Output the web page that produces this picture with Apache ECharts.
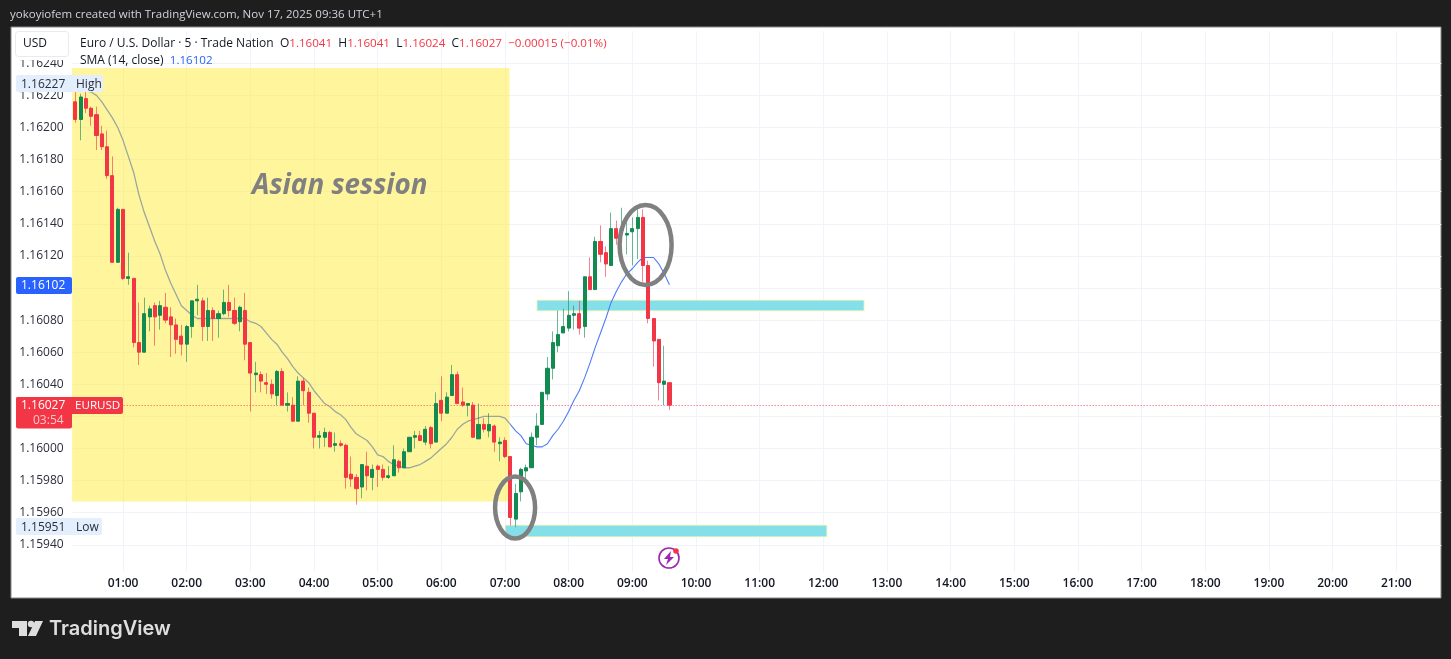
<!DOCTYPE html>
<html>
<head>
<meta charset="utf-8">
<style>html,body{margin:0;padding:0;background:#1e1e1e}#c{width:1451px;height:659px}</style>
<script src="https://cdn.jsdelivr.net/npm/echarts@6/dist/echarts.min.js"></script>
</head>
<body>
<div id="c"></div>
<script>
const opens = [
1.16216,1.16205,1.16218,1.16212,1.16208,1.16196,1.16188,1.16170,1.16116,1.16149,
1.16106,1.16106,1.16066,1.16060,1.16082,1.16089,1.16083,1.16088,1.16082,1.16077,
1.16070,1.16065,1.16076,1.16092,1.16092,1.16076,1.16086,1.16081,1.16084,1.16091,
1.16086,1.16079,1.16086,1.16066,1.16046,1.16046,1.16041,1.16040,1.16033,1.16048,
1.16027,1.16027,1.16017,1.16042,1.16035,1.16022,1.16007,1.16007,1.16010,1.16002,
1.16003,1.16002,1.15984,1.15982,1.15976,1.15989,1.15982,1.15989,1.15987,1.15982,
1.15983,1.15992,1.15988,1.15998,1.16007,1.16008,1.16004,1.16013,1.16004,1.16030,
1.16022,1.16033,1.16046,1.16029,1.16027,1.16027,1.16006,1.16015,1.16011,1.16014,
1.16003,1.16005,1.15995,1.15956,1.15973,1.15986,1.15988,1.16007,1.16015,1.16034,
1.16050,1.16064,1.16072,1.16075,1.16083,1.16084,1.16076,1.16107,1.16099,1.16129,
1.16122,1.16114,1.16137,1.16136,1.16133,1.16135,1.16137,1.16144,1.16114,1.16081,
1.16068,1.16040,1.16041];
const highs = [
1.16225,1.16221,1.16227,1.16213,1.16213,1.16201,1.16198,1.16182,1.16150,1.16149,
1.16122,1.16106,1.16091,1.16094,1.16089,1.16091,1.16092,1.16097,1.16088,1.16081,
1.16077,1.16077,1.16092,1.16102,1.16094,1.16094,1.16088,1.16086,1.16099,1.16102,
1.16094,1.16089,1.16097,1.16066,1.16054,1.16048,1.16047,1.16043,1.16049,1.16050,
1.16035,1.16032,1.16045,1.16044,1.16038,1.16022,1.16011,1.16013,1.16011,1.16010,
1.16005,1.16003,1.15995,1.15984,1.15990,1.15998,1.15990,1.15990,1.15990,1.15989,
1.16002,1.15993,1.16000,1.16007,1.16011,1.16011,1.16014,1.16014,1.16035,1.16045,
1.16035,1.16052,1.16048,1.16038,1.16028,1.16029,1.16028,1.16019,1.16022,1.16015,
1.16007,1.16007,1.15995,1.15978,1.15988,1.15990,1.16010,1.16022,1.16035,1.16057,
1.16073,1.16086,1.16087,1.16098,1.16089,1.16092,1.16107,1.16119,1.16132,1.16139,
1.16126,1.16147,1.16142,1.16150,1.16144,1.16144,1.16149,1.16149,1.16117,1.16081,
1.16068,1.16064,1.16041];
const lows = [
1.16203,1.16192,1.16209,1.16201,1.16186,1.16186,1.16168,1.16116,1.16116,1.16105,
1.16102,1.16063,1.16052,1.16060,1.16073,1.16064,1.16074,1.16078,1.16057,1.16059,
1.16058,1.16054,1.16069,1.16083,1.16067,1.16067,1.16067,1.16069,1.16083,1.16082,
1.16077,1.16073,1.16055,1.16023,1.16035,1.16035,1.16034,1.16031,1.16027,1.16027,
1.16023,1.16017,1.16017,1.16027,1.16016,1.16000,1.16000,1.16001,1.16001,1.15998,
1.16001,1.15975,1.15976,1.15965,1.15969,1.15974,1.15974,1.15976,1.15980,1.15981,
1.15983,1.15985,1.15988,1.15998,1.16000,1.16005,1.16002,1.16000,1.16004,1.16017,
1.16022,1.16033,1.16028,1.16026,1.16020,1.16007,1.16006,1.16010,1.16007,1.15998,
1.15992,1.15994,1.15952,1.15951,1.15967,1.15981,1.15988,1.16002,1.16015,1.16030,
1.16043,1.16060,1.16072,1.16073,1.16074,1.16071,1.16069,1.16099,1.16099,1.16116,
1.16107,1.16114,1.16127,1.16133,1.16121,1.16114,1.16118,1.16104,1.16078,1.16051,
1.16030,1.16027,1.16024];
const closes = [
1.16205,1.16219,1.16212,1.16207,1.16195,1.16188,1.16170,1.16116,1.16149,1.16106,
1.16107,1.16066,1.16060,1.16084,1.16087,1.16082,1.16089,1.16080,1.16077,1.16068,
1.16065,1.16076,1.16092,1.16093,1.16076,1.16086,1.16081,1.16084,1.16091,1.16086,
1.16078,1.16088,1.16065,1.16047,1.16047,1.16042,1.16040,1.16034,1.16048,1.16027,
1.16028,1.16017,1.16042,1.16036,1.16022,1.16007,1.16008,1.16010,1.16001,1.16003,
1.16002,1.15982,1.15981,1.15975,1.15990,1.15983,1.15987,1.15987,1.15982,1.15983,
1.15993,1.15988,1.15998,1.16007,1.16008,1.16005,1.16012,1.16003,1.16028,1.16022,
1.16032,1.16046,1.16028,1.16027,1.16028,1.16007,1.16015,1.16012,1.16015,1.16004,
1.16004,1.15995,1.15957,1.15972,1.15987,1.15988,1.16007,1.16014,1.16035,1.16050,
1.16066,1.16071,1.16076,1.16083,1.16084,1.16075,1.16107,1.16099,1.16129,1.16121,
1.16115,1.16137,1.16131,1.16137,1.16134,1.16137,1.16144,1.16114,1.16081,1.16067,
1.16041,1.16042,1.16027];
const smaValues = [
null,null,1.16223,1.16222,1.16220,1.16216,1.16211,1.16206,1.16200,1.16192,
1.16182,1.16172,1.16158,1.16147,1.16138,1.16129,1.16121,1.16111,1.16103,1.16096,
1.16089,1.16086,1.16083,1.16081,1.16081,1.16081,1.16081,1.16081,1.16081,1.16081,
1.16081,1.16081,1.16081,1.16079,1.16078,1.16076,1.16072,1.16068,1.16065,1.16060,
1.16056,1.16051,1.16047,1.16044,1.16041,1.16036,1.16032,1.16028,1.16026,1.16023,
1.16021,1.16018,1.16013,1.16009,1.16007,1.16005,1.16001,1.15996,1.15995,1.15992,
1.15990,1.15989,1.15988,1.15988,1.15989,1.15990,1.15992,1.15994,1.15997,1.16000,
1.16003,1.16007,1.16012,1.16015,1.16017,1.16018,1.16019,1.16020,1.16020,1.16020,
1.16020,1.16019,1.16015,1.16011,1.16008,1.16003,1.16002,1.16001,1.16001,1.16003,
1.16008,1.16012,1.16017,1.16023,1.16030,1.16036,1.16044,1.16053,1.16063,1.16072,
1.16081,1.16091,1.16098,1.16104,1.16109,1.16112,1.16116,1.16119,1.16119,1.16119,
1.16115,1.16109,1.16102];
const sessionEndBar = 82;
const hourLabels = ['01:00','02:00','03:00','04:00','05:00','06:00','07:00','08:00','09:00','10:00','11:00','12:00','13:00','14:00','15:00','16:00','17:00','18:00','19:00','20:00','21:00'];
const lastPrice = 1.16027;
// [fromBar, toBar, topPrice, bottomPrice]
const sessionBox = [-0.6, 81.85, 1.16237, 1.15967];
const levelBoxes = [[87.0, 148.7, 1.160925, 1.160857], [81.0, 141.7, 1.159523, 1.159449]];
// [centerBar, centerPrice, radiusBars, radiusPrice]
const ellipses = [[107.5, 1.161268, 4.9, 0.000249], [82.9, 1.159632, 3.77, 0.000193]];

const categories = [];
for (let k = 0; k < 258; k++) {
  const m = 15 + k * 5;
  const hh = Math.floor(m / 60) % 24, mm = m % 60;
  categories.push((hh < 10 ? '0' : '') + hh + ':' + (mm < 10 ? '0' : '') + mm);
}
const isHour = (i, v) => hourLabels.indexOf(v) >= 0;
const wickData = opens.map((o, i) => [o, closes[i], lows[i], highs[i]]);
const bodyData = opens.map((o, i) => [o, closes[i], Math.min(o, closes[i]), Math.max(o, closes[i])]);
const font = '"Open Sans", "Noto Sans", sans-serif';
const INK = '#131722', RED = '#f23645', GREEN = '#138a50', BLUE = '#2962ff';

function xAt(api, bar, price) {
  const r = Math.round(bar);
  return api.coord([r, price])[0] + (bar - r) * api.size([1, 0])[0];
}
function boxShape(api, b) {
  const x0 = xAt(api, b[0], b[2]), x1 = xAt(api, b[1], b[2]);
  const y0 = api.coord([0, b[2]])[1], y1 = api.coord([0, b[3]])[1];
  return { x: x0, y: y0, width: x1 - x0, height: y1 - y0 };
}
function tag(x, y, w, h, fill, r) {
  return { type: 'rect', z: 60, shape: { x: x, y: y, width: w, height: h, r: r || 2 }, style: { fill: fill } };
}
function txt(x, y, s, fill, size, extra) {
  return { type: 'text', z: 62, x: x, y: y + 1, style: Object.assign({ text: s, fill: fill, font: (size || 12) + 'px ' + font, textVerticalAlign: 'middle' }, extra || {}) };
}

const chart = echarts.init(document.getElementById('c'), null, { renderer: 'canvas' });
chart.setOption({
  animation: false,
  backgroundColor: '#1e1e1e',
  grid: { left: 72.65, width: 1368.7, top: 31.2, height: 545.7 },
  xAxis: {
    type: 'category', data: categories, boundaryGap: true,
    axisLine: { show: false }, axisTick: { show: false },
    axisLabel: { interval: isHour, color: INK, fontFamily: font, fontSize: 12, fontWeight: 600, margin: 1, hideOverlap: false },
    splitLine: { show: true, interval: isHour, alignWithLabel: true, lineStyle: { color: '#f0f3fa', width: 1 } }
  },
  yAxis: {
    type: 'value', min: 1.1592, max: 1.1626, interval: 0.0002, position: 'left',
    axisLine: { show: false }, axisTick: { show: false },
    axisLabel: { color: '#2a2e39', fontFamily: font, fontSize: 12, margin: 9, showMinLabel: false, showMaxLabel: false,
      formatter: v => v.toFixed(5) },
    splitLine: { show: true, showMinLine: false, showMaxLine: false, lineStyle: { color: '#f0f3fa', width: 1 } }
  },
  series: [
    { type: 'custom', name: 'session', z: 1, silent: true, coordinateSystem: 'cartesian2d', clip: false,
      data: [[0, 0]],
      renderItem: (p, api) => ({ type: 'rect', shape: boxShape(api, sessionBox), style: { fill: 'rgba(255,235,59,0.5)' } }) },
    { type: 'custom', name: 'levels', z: 2, silent: true, coordinateSystem: 'cartesian2d', clip: false,
      data: levelBoxes.map((b, i) => [i, 0]),
      renderItem: (p, api) => ({ type: 'rect', shape: boxShape(api, levelBoxes[p.dataIndex]), style: { fill: '#84dfe9', stroke: '#fff9c4', lineWidth: 1 } }) },
    { type: 'line', name: 'SMA session', z: 3, data: smaValues.map((v, i) => i <= sessionEndBar ? v : null), showSymbol: false, symbol: 'none', silent: true,
      lineStyle: { color: '#9aa79f', width: 1.3 } },
    { type: 'line', name: 'SMA', z: 3, data: smaValues.map((v, i) => i >= sessionEndBar ? v : null), showSymbol: false, symbol: 'none', silent: true,
      lineStyle: { color: '#4d7cf5', width: 1.1 } },
    { type: 'candlestick', name: 'wicks', z: 4, barWidth: 1, data: wickData, silent: true,
      itemStyle: { color: 'rgba(19,138,90,0.62)', color0: 'rgba(242,54,69,0.62)', borderColor: 'rgba(19,138,90,0.62)', borderColor0: 'rgba(242,54,69,0.62)', borderWidth: 1 } },
    { type: 'candlestick', name: 'EURUSD', z: 5, barWidth: 3.6, data: bodyData, silent: true,
      itemStyle: { color: GREEN, color0: RED, borderColor: GREEN, borderColor0: RED, borderWidth: 1 },
      markLine: { silent: true, symbol: 'none', precision: 5, label: { show: false }, animation: false,
        lineStyle: { color: 'rgba(242,54,69,0.85)', type: [1, 2], width: 1 }, data: [{ yAxis: lastPrice }] } },
    { type: 'custom', name: 'circles', z: 8, silent: true, coordinateSystem: 'cartesian2d', clip: false,
      data: ellipses.map((b, i) => [i, 0]),
      renderItem: (p, api) => {
        const e = ellipses[p.dataIndex];
        const c = api.coord([Math.round(e[0]), e[1]]);
        const bw = api.size([1, 0])[0];
        const ry = Math.abs(api.coord([0, e[1] + e[3]])[1] - c[1]);
        return { type: 'ellipse', shape: { cx: c[0] + (e[0] - Math.round(e[0])) * bw, cy: c[1], rx: e[2] * bw, ry: ry },
          style: { fill: 'none', stroke: '#808080', lineWidth: 4.5 } };
      } }
  ],
  graphic: [
    // chart panel
    { type: 'rect', z: -10, shape: { x: 11, y: 27, width: 1430, height: 571 }, style: { fill: '#ffffff', stroke: '#8a8a8a', lineWidth: 1 } },
    // strip under the plot, where the time grid stops
    { type: 'rect', z: 6, shape: { x: 73, y: 571.5, width: 1367, height: 6 }, style: { fill: '#ffffff' } },
    txt(10, 14, 'yokoyiofem created with TradingView.com, Nov 17, 2025 09:36 UTC+1', '#d1d4dc', 11.5),
    // corner currency box
    tag(12, 28, 60, 32, '#ffffff', 0),
    { type: 'rect', z: 61, shape: { x: 15.5, y: 31.5, width: 53, height: 25, r: 3 }, style: { fill: '#ffffff', stroke: '#e8eaf0', lineWidth: 1 } },
    txt(23, 43, 'USD', INK, 12),
    // legend
    { type: 'text', z: 61, x: 80, y: 44, style: {
        text: 'Euro / U.S. Dollar · 5 · Trade Nation  O{r|1.16041}  H{r|1.16041}  L{r|1.16024}  C{r|1.16027}  {r|−0.00015 (−0.01%)}',
        rich: { r: { fill: RED, font: '11.6px ' + font } }, fill: INK, font: '12px ' + font, textVerticalAlign: 'middle' } },
    { type: 'text', z: 61, x: 80, y: 61, style: {
        text: 'SMA (14, close)  {b|1.16102}', rich: { b: { fill: BLUE, font: '11.6px ' + font } },
        fill: INK, font: '12px ' + font, textVerticalAlign: 'middle' } },
    // high/low tags
    tag(16, 75, 87, 17, '#e3effd'),
    txt(21, 83.5, '1.16227', '#2a2e39'), txt(76, 83.5, 'High', '#2a2e39'),
    tag(16, 518, 86, 17, '#e3effd'),
    txt(21, 526.5, '1.15951', '#2a2e39'), txt(76, 526.5, 'Low', '#2a2e39'),
    // SMA tag
    tag(16, 277, 56, 17, BLUE),
    txt(21, 285, '1.16102', '#ffffff'),
    // last price tag
    tag(16, 397, 56, 31.5, RED),
    tag(16, 397, 107, 17, RED),
    txt(21, 405, '1.16027', '#ffffff'), txt(75, 405, 'EURUSD', '#ffffff', 11.6),
    txt(33, 419.5, '03:54', '#ffc7cc'),
    // annotation text
    { type: 'text', z: 20, x: 252, y: 186, style: { text: 'Asian session', fill: '#808080', font: 'italic 700 27.8px ' + font, textVerticalAlign: 'middle' } },
    // lightning icon
    { type: 'circle', z: 20, shape: { cx: 669, cy: 558, r: 10 }, style: { fill: 'none', stroke: '#9c27b0', lineWidth: 1.6 } },
    { type: 'polygon', z: 21, shape: { points: [[671, 551], [664, 559], [668, 559], [666, 565], [674, 557], [670, 557]] }, style: { fill: '#9c27b0' } },
    { type: 'circle', z: 22, shape: { cx: 676, cy: 551, r: 2.8 }, style: { fill: '#f23645' } },
    // footer logo
    { type: 'polygon', z: 20, shape: { points: [[12, 621], [27, 621], [27, 636], [19, 636], [19, 628], [12, 628]] }, style: { fill: '#dedede' } },
    { type: 'circle', z: 20, shape: { cx: 31, cy: 624, r: 3.2 }, style: { fill: '#dedede' } },
    { type: 'polygon', z: 20, shape: { points: [[35, 621], [43, 621], [36, 636], [28, 636]] }, style: { fill: '#dedede' } },
    { type: 'text', z: 20, x: 49, y: 629, style: { text: 'TradingView', fill: '#dedede', font: '600 20px Inter, ' + font, textVerticalAlign: 'middle' } }
  ]
});
</script>
</body>
</html>
